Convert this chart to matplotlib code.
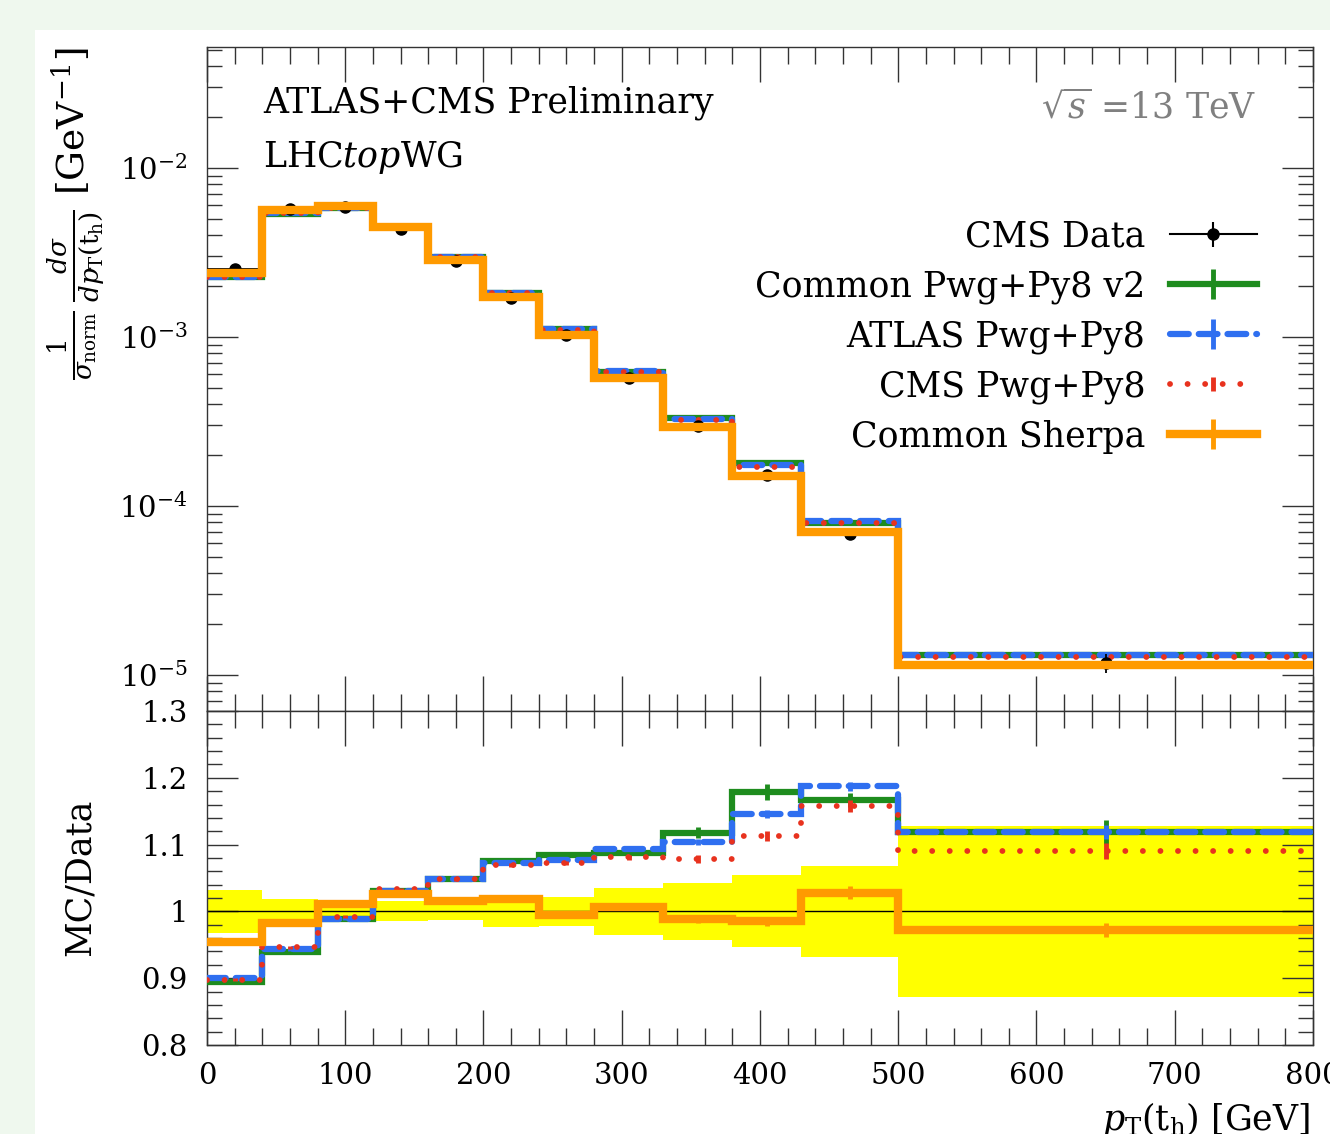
import numpy as np
import matplotlib
matplotlib.use("Agg")
import matplotlib.pyplot as plt
from matplotlib.lines import Line2D
from matplotlib.patches import Rectangle
from matplotlib.ticker import MultipleLocator, LogLocator, FuncFormatter, NullFormatter

plt.rcParams["font.family"] = ["DejaVu Serif"]
plt.rcParams["mathtext.fontset"] = "dejavuserif"

# binning in pT(t_h) [GeV]
edges = [0, 40, 80, 120, 160, 200, 240, 280, 330, 380, 430, 500, 800]
centres = [20, 60, 100, 140, 180, 220, 260, 305, 355, 405, 465, 650]

# CMS normalised differential cross section [GeV^-1]
data_xs = [2.52e-3, 5.72e-3, 5.88e-3, 4.35e-3, 2.82e-3, 1.70e-3,
           1.03e-3, 5.71e-4, 2.97e-4, 1.52e-4, 6.83e-5, 1.18e-5]
# relative data uncertainty (yellow band)
data_unc = [0.032, 0.018, 0.012, 0.015, 0.013, 0.024,
            0.022, 0.035, 0.043, 0.054, 0.068, 0.128]

# MC / Data
ratio_pwg_v2 = [0.894, 0.939, 0.989, 1.030, 1.049, 1.076,
                1.085, 1.087, 1.118, 1.179, 1.167, 1.119]
ratio_atlas = [0.900, 0.943, 0.989, 1.030, 1.049, 1.073,
               1.077, 1.094, 1.104, 1.146, 1.187, 1.119]
ratio_cms = [0.898, 0.946, 0.992, 1.033, 1.049, 1.069,
             1.072, 1.081, 1.079, 1.113, 1.158, 1.090]
ratio_sherpa = [0.954, 0.982, 1.011, 1.026, 1.016, 1.018,
                0.995, 1.006, 0.988, 0.985, 1.028, 0.972]

# MC stat. uncertainty on the ratio
err_pwg_v2 = [0.002, 0.002, 0.002, 0.003, 0.003, 0.003,
              0.004, 0.005, 0.008, 0.012, 0.010, 0.018]
err_atlas = [0.002, 0.002, 0.002, 0.002, 0.003, 0.003,
             0.003, 0.004, 0.005, 0.006, 0.007, 0.010]
err_cms = [0.002, 0.002, 0.002, 0.002, 0.003, 0.003,
           0.003, 0.004, 0.006, 0.008, 0.009, 0.012]
err_sherpa = [0.002, 0.002, 0.002, 0.003, 0.003, 0.003,
              0.004, 0.004, 0.006, 0.007, 0.010, 0.010]

GREEN = "#1e8c1e"
BLUE = "#2f6ff0"
RED = "#e8321e"
ORANGE = "#ff9a00"
TICKC = "#333333"

mc = [
    ("Common Pwg+Py8 v2", ratio_pwg_v2, err_pwg_v2, GREEN, "-", 4.5, 3),
    ("ATLAS Pwg+Py8", ratio_atlas, err_atlas, BLUE, (0, (3, 1.6)), 4.5, 4),
    ("CMS Pwg+Py8", ratio_cms, err_cms, RED, (0, (0.01, 3)), 4.2, 5),
    ("Common Sherpa", ratio_sherpa, err_sherpa, ORANGE, "-", 6.0, 7),
]

fig = plt.figure(figsize=(13.3, 11.34), dpi=100)
fig.patch.set_facecolor("#eff8ee")
fig.add_artist(Rectangle((35 / 1330, 0), 1, 1 - 30 / 1134, transform=fig.transFigure,
                         facecolor="white", edgecolor="none", zorder=-10))

ax = fig.add_axes([0.1556, 0.3730, 0.8316, 0.5856])
rax = fig.add_axes([0.1556, 0.0785, 0.8316, 0.2945], sharex=ax)

d = np.array(data_xs)
half = np.diff(edges) / 2

# main panel
for name, r, e, col, ls, lw, z in mc:
    ax.stairs(d * np.array(r), edges, baseline=None, color=col, lw=lw,
              linestyle=ls, capstyle="round", zorder=z)
ax.errorbar(centres, d, xerr=half, yerr=d * np.array(data_unc), fmt="o", color="black",
            ms=8, elinewidth=1.3, capsize=0, zorder=6)

ax.set_yscale("log")
ax.set_ylim(6.12e-6, 0.052)
ax.yaxis.set_major_locator(LogLocator(base=10))
ax.yaxis.set_minor_locator(LogLocator(base=10, subs=np.arange(2, 10), numticks=20))
ax.yaxis.set_minor_formatter(NullFormatter())

# ratio panel
lo = 1 - np.array(data_unc)
hi = 1 + np.array(data_unc)
rax.stairs(hi, edges, baseline=lo, fill=True, color="#ffff00", lw=0, zorder=1)
rax.axhline(1.0, color="black", lw=1.0, zorder=2)
for name, r, e, col, ls, lw, z in mc:
    rax.stairs(r, edges, baseline=None, color=col, lw=lw, linestyle=ls,
               capstyle="round", zorder=z)
    rax.errorbar(centres, r, yerr=e, fmt="none", ecolor=col, elinewidth=3.5,
                 capsize=0, zorder=z)

rax.set_ylim(0.8, 1.3)
rax.yaxis.set_major_locator(MultipleLocator(0.1))
rax.yaxis.set_minor_locator(MultipleLocator(0.02))
rax.yaxis.set_major_formatter(FuncFormatter(lambda v, p: "1" if abs(v - 1) < 1e-6 else f"{v:.1f}"))

rax.set_xlim(0, 800)
rax.xaxis.set_major_locator(MultipleLocator(100))
rax.xaxis.set_minor_locator(MultipleLocator(20))

for a in (ax, rax):
    a.tick_params(which="both", direction="in", top=True, right=True, color=TICKC,
                  width=1, labelsize=21)
    a.tick_params(axis="x", which="major", length=25, pad=12)
    a.tick_params(axis="x", which="minor", length=12)
    a.tick_params(axis="y", which="major", length=22, pad=14)
    a.tick_params(axis="y", which="minor", length=11)
    for s in a.spines.values():
        s.set_color(TICKC)
        s.set_linewidth(1.0)
ax.tick_params(labelbottom=False)

# texts
ax.text(0.0506, 0.9157, "ATLAS+CMS Preliminary", transform=ax.transAxes,
        fontsize=25, va="center", ha="left")
ax.text(0.0506, 0.834, r"LHC$\mathit{top}$WG", transform=ax.transAxes,
        fontsize=25, va="center", ha="left")
ax.text(0.949, 0.908, r"$\sqrt{s}$ =13 TeV", transform=ax.transAxes,
        fontsize=25, va="center", ha="right", color="#808080")

fig.text(0.0575, 0.958,
         r"$\frac{1}{\sigma_{\mathrm{norm}}}\,\frac{d\sigma}{dp_{\mathrm{T}}(\mathrm{t_h})}$ [GeV$^{-1}$]",
         rotation=90, ha="center", va="top", fontsize=27)
fig.text(0.060, 0.2266, "MC/Data", rotation=90, ha="center", va="center", fontsize=25)
fig.text(0.985, 1 - 1100 / 1134, r"$p_{\mathrm{T}}(\mathrm{t_h})$ [GeV]",
         ha="right", va="top", fontsize=25)

# legend
handles = [
    (Line2D([], [], color="black", lw=1.5),
     Line2D([], [], color="black", marker="o", ms=8, ls="none"),
     Line2D([], [], color="black", marker="|", ms=18, mew=1.5, ls="none")),
]
labels = ["CMS Data"]
for name, r, e, col, ls, lw, z in mc:
    line = Line2D([], [], color=col, lw=lw, ls=ls, dash_capstyle="round")
    tick = Line2D([], [], color=col, marker="|", ms=22 if col != RED else 10,
                  mew=3.5, ls="none")
    handles.append((line, tick))
    labels.append(name)

ax.legend(handles, labels, loc="upper right", bbox_to_anchor=(0.949, 0.74),
          frameon=False, markerfirst=False, fontsize=25, handlelength=2.5,
          handletextpad=0.7, labelspacing=0.45, borderpad=0, borderaxespad=0)

fig.savefig("out.png", dpi=100, facecolor=fig.get_facecolor())
